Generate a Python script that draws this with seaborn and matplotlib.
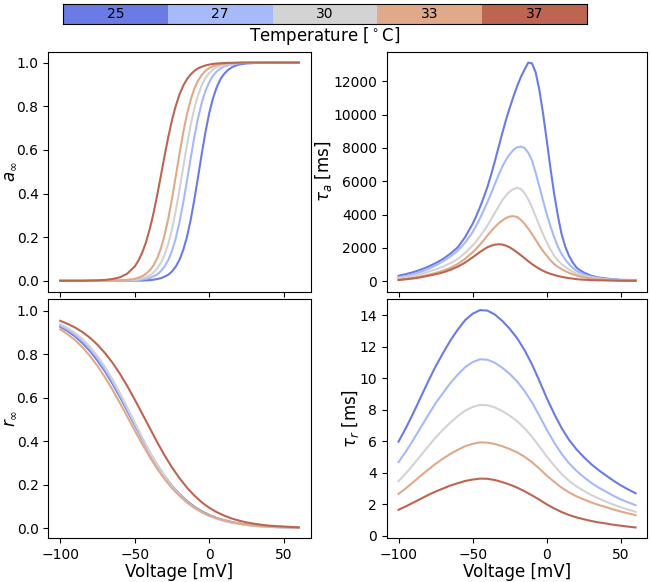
import numpy as np
import pandas as pd
import matplotlib
matplotlib.use("Agg")
import matplotlib.pyplot as plt
import seaborn as sns
from matplotlib.colors import ListedColormap

# voltage grid for the inactivation panels (mV)
volts = [-100, -95, -90, -85, -80, -75, -70, -65, -60, -55, -50, -45, -40, -35, -30, -25,
         -20, -15, -10, -5, 0, 5, 10, 15, 20, 25, 30, 35, 40, 45, 50, 55, 60]
# finer grid around the steep part of the activation panels (mV)
volts_act = [-100, -95, -90, -85, -80, -75, -70, -65, -60, -55, -50,
             -47.5, -45, -42.5, -40, -37.5, -35, -32.5, -30, -27.5, -25, -22.5, -20, -17.5, -15,
             -12.5, -10, -7.5, -5, -2.5, 0, 2.5, 5, 7.5, 10, 12.5, 15, 17.5, 20, 22.5, 25,
             30, 35, 40, 45, 50, 55, 60]

temps = [25, 27, 30, 33, 37]
colors = ["#6a7be6", "#a6bafa", "#d3d3d3", "#dfa98a", "#be6552"]

# a_inf (on volts_act)
a_inf_25 = [0, 0, 0, 0, 0, 0, 0, 0, 0, 0, 0.001,
            0.001, 0.001, 0.002, 0.003, 0.005, 0.008, 0.012, 0.019, 0.028, 0.043, 0.065, 0.096, 0.141, 0.201,
            0.279, 0.374, 0.478, 0.585, 0.685, 0.770, 0.837, 0.888, 0.924, 0.949, 0.966, 0.978, 0.986, 0.991, 0.994, 0.996,
            0.998, 0.999, 1, 1, 1, 1, 1]
a_inf_27 = [0, 0, 0, 0, 0, 0, 0, 0, 0, 0.001, 0.003,
            0.004, 0.006, 0.009, 0.013, 0.020, 0.029, 0.044, 0.065, 0.095, 0.138, 0.195, 0.269, 0.358, 0.458,
            0.562, 0.661, 0.747, 0.818, 0.872, 0.911, 0.940, 0.960, 0.973, 0.982, 0.988, 0.992, 0.995, 0.997, 0.998, 0.998,
            0.999, 1, 1, 1, 1, 1, 1]
a_inf_30 = [0, 0, 0, 0, 0, 0, 0, 0, 0.001, 0.002, 0.005,
            0.007, 0.011, 0.017, 0.025, 0.037, 0.056, 0.082, 0.119, 0.170, 0.237, 0.321, 0.417, 0.521, 0.622,
            0.714, 0.791, 0.852, 0.897, 0.930, 0.953, 0.968, 0.979, 0.986, 0.991, 0.994, 0.996, 0.997, 0.998, 0.999, 0.999,
            1, 1, 1, 1, 1, 1, 1]
a_inf_33 = [0, 0, 0, 0, 0, 0, 0, 0.001, 0.002, 0.004, 0.009,
            0.014, 0.021, 0.032, 0.047, 0.070, 0.103, 0.148, 0.209, 0.286, 0.378, 0.479, 0.583, 0.679, 0.763,
            0.830, 0.881, 0.918, 0.944, 0.963, 0.975, 0.983, 0.989, 0.993, 0.995, 0.997, 0.998, 0.999, 0.999, 1, 1,
            1, 1, 1, 1, 1, 1, 1]
a_inf_37 = [0, 0, 0, 0, 0.001, 0.002, 0.004, 0.008, 0.016, 0.033, 0.066,
            0.093, 0.129, 0.176, 0.236, 0.308, 0.391, 0.481, 0.573, 0.660, 0.737, 0.802, 0.854, 0.894, 0.924,
            0.946, 0.962, 0.974, 0.981, 0.987, 0.991, 0.994, 0.996, 0.997, 0.998, 0.999, 0.999, 0.999, 1, 1, 1,
            1, 1, 1, 1, 1, 1, 1]

# tau_a in ms (on volts_act)
tau_a_25 = [320, 420, 540, 690, 866, 1080, 1330, 1650, 2030, 2650, 3440,
            3920, 4450, 5030, 5660, 6400, 7200, 8040, 8880, 9680, 10400, 11080, 11700, 12250, 12700,
            13130, 13085, 12560, 11500, 10100, 8480, 6800, 5260, 3950, 2840, 2080, 1530, 1130, 826, 650, 520,
            322, 220, 160, 110, 80, 70, 60]
tau_a_27 = [220, 300, 400, 550, 725, 940, 1190, 1480, 1830, 2320, 2940,
            3340, 3780, 4250, 4750, 5280, 5830, 6370, 6870, 7290, 7620, 7880, 8040, 8080, 8000,
            7720, 7270, 6520, 5700, 4850, 4030, 3300, 2640, 2080, 1630, 1300, 1030, 800, 625, 500, 400,
            260, 180, 120, 85, 60, 50, 40]
tau_a_30 = [180, 240, 320, 430, 560, 700, 870, 1080, 1330, 1700, 2135,
            2400, 2700, 3010, 3340, 3720, 4100, 4480, 4850, 5150, 5380, 5530, 5600, 5540, 5300,
            4920, 4450, 3900, 3340, 2820, 2340, 1910, 1530, 1250, 1030, 850, 700, 570, 460, 380, 320,
            220, 150, 100, 75, 60, 50, 40]
tau_a_33 = [100, 140, 200, 280, 380, 490, 625, 800, 1030, 1350, 1730,
            1950, 2200, 2460, 2740, 3000, 3250, 3470, 3645, 3790, 3880, 3905, 3850, 3690, 3450,
            3160, 2840, 2490, 2135, 1810, 1530, 1260, 1030, 860, 725, 600, 500, 410, 340, 280, 230,
            160, 110, 80, 70, 60, 50, 40]
tau_a_37 = [60, 110, 160, 230, 320, 410, 520, 680, 870, 1120, 1430,
            1590, 1750, 1900, 2035, 2130, 2190, 2215, 2200, 2130, 2030, 1890, 1730, 1560, 1380,
            1200, 1030, 880, 740, 620, 520, 440, 370, 310, 260, 215, 180, 150, 120, 100, 85,
            60, 50, 40, 30, 20, 20, 20]

# r_inf (on volts)
r_inf_25 = [0.926, 0.906, 0.881, 0.850, 0.814, 0.770, 0.721, 0.665, 0.604, 0.539, 0.474, 0.409, 0.347, 0.290, 0.239, 0.195,
            0.157, 0.125, 0.099, 0.078, 0.061, 0.047, 0.037, 0.029, 0.022, 0.017, 0.013, 0.010, 0.008, 0.006, 0.005, 0.004, 0.003]
r_inf_27 = [0.932, 0.913, 0.889, 0.859, 0.824, 0.781, 0.731, 0.675, 0.613, 0.547, 0.480, 0.413, 0.349, 0.291, 0.238, 0.193,
            0.154, 0.122, 0.096, 0.075, 0.058, 0.045, 0.035, 0.027, 0.021, 0.016, 0.012, 0.009, 0.007, 0.005, 0.004, 0.003, 0.002]
r_inf_30 = [0.938, 0.920, 0.897, 0.869, 0.833, 0.791, 0.742, 0.685, 0.622, 0.555, 0.486, 0.417, 0.352, 0.291, 0.237, 0.191,
            0.152, 0.119, 0.093, 0.072, 0.056, 0.043, 0.033, 0.025, 0.019, 0.014, 0.011, 0.008, 0.006, 0.005, 0.004, 0.003, 0.002]
r_inf_33 = [0.914, 0.891, 0.864, 0.831, 0.791, 0.746, 0.694, 0.637, 0.576, 0.513, 0.449, 0.387, 0.328, 0.274, 0.226, 0.184,
            0.149, 0.119, 0.094, 0.075, 0.059, 0.046, 0.036, 0.028, 0.022, 0.017, 0.013, 0.010, 0.008, 0.006, 0.005, 0.004, 0.003]
r_inf_37 = [0.953, 0.939, 0.922, 0.901, 0.875, 0.843, 0.805, 0.761, 0.710, 0.653, 0.591, 0.526, 0.461, 0.396, 0.335, 0.279,
            0.230, 0.187, 0.150, 0.119, 0.094, 0.074, 0.058, 0.045, 0.035, 0.027, 0.021, 0.016, 0.012, 0.010, 0.008, 0.006, 0.004]

# tau_r in ms (on volts)
tau_r_25 = [5.98, 6.85, 7.80, 8.80, 9.80, 10.75, 11.60, 12.40, 13.10, 13.70, 14.10, 14.33, 14.30, 14.05, 13.65, 13.15,
            12.55, 11.80, 10.90, 9.85, 8.75, 7.75, 6.85, 6.10, 5.50, 5.00, 4.55, 4.17, 3.83, 3.50, 3.20, 2.94, 2.70]
tau_r_27 = [4.68, 5.36, 6.10, 6.88, 7.66, 8.41, 9.07, 9.70, 10.24, 10.71, 11.03, 11.21, 11.18, 10.99, 10.67, 10.28,
            9.81, 9.20, 8.48, 7.63, 6.74, 5.93, 5.21, 4.61, 4.13, 3.73, 3.37, 3.06, 2.80, 2.54, 2.31, 2.12, 1.94]
tau_r_30 = [3.47, 3.97, 4.52, 5.10, 5.68, 6.24, 6.73, 7.19, 7.60, 7.95, 8.18, 8.31, 8.29, 8.15, 7.92, 7.63,
            7.28, 6.83, 6.30, 5.68, 5.04, 4.46, 3.93, 3.49, 3.14, 2.85, 2.59, 2.37, 2.17, 1.98, 1.81, 1.66, 1.52]
tau_r_33 = [2.66, 3.02, 3.41, 3.81, 4.20, 4.57, 4.90, 5.20, 5.46, 5.69, 5.84, 5.93, 5.92, 5.83, 5.69, 5.51,
            5.30, 5.02, 4.68, 4.27, 3.82, 3.43, 3.06, 2.76, 2.51, 2.31, 2.12, 1.96, 1.82, 1.67, 1.54, 1.42, 1.31]
tau_r_37 = [1.65, 1.87, 2.11, 2.35, 2.59, 2.81, 3.00, 3.19, 3.34, 3.48, 3.57, 3.63, 3.62, 3.54, 3.41, 3.25,
            3.06, 2.83, 2.57, 2.29, 2.00, 1.74, 1.51, 1.32, 1.17, 1.05, 0.94, 0.85, 0.78, 0.70, 0.64, 0.58, 0.53]


def long_form(x, series):
    frames = [pd.DataFrame({"V": x, "y": vals, "T": t}) for t, vals in zip(temps, series)]
    return pd.concat(frames, ignore_index=True)


palette = dict(zip(temps, colors))

fig = plt.figure(figsize=(6.5, 5.82), dpi=100)

# discrete temperature colour bar on top
cax = fig.add_axes([0.0969, 0.9590, 0.8062, 0.0345])
sns.heatmap(np.array([[0, 1, 2, 3, 4]]), cmap=ListedColormap(colors), vmin=-0.5, vmax=4.5,
            annot=np.array([temps]), fmt="d", cbar=False, xticklabels=False, yticklabels=False,
            annot_kws={"color": "black", "fontsize": 10}, ax=cax)
for s in cax.spines.values():
    s.set_visible(True)
    s.set_linewidth(0.8)
cax.set_xlabel("Temperature [$^\\circ$C]", fontsize=12, labelpad=1)
cax.set_ylabel("")

ax_a = fig.add_axes([0.0743, 0.4988, 0.4037, 0.4124])
ax_ta = fig.add_axes([0.5949, 0.4988, 0.4012, 0.4124])
ax_r = fig.add_axes([0.0743, 0.0751, 0.4037, 0.4107])
ax_tr = fig.add_axes([0.5949, 0.0751, 0.4012, 0.4107])

panels = [
    (ax_a, volts_act, [a_inf_25, a_inf_27, a_inf_30, a_inf_33, a_inf_37], "$a_\\infty$"),
    (ax_ta, volts_act, [tau_a_25, tau_a_27, tau_a_30, tau_a_33, tau_a_37], "$\\tau_a$ [ms]"),
    (ax_r, volts, [r_inf_25, r_inf_27, r_inf_30, r_inf_33, r_inf_37], "$r_\\infty$"),
    (ax_tr, volts, [tau_r_25, tau_r_27, tau_r_30, tau_r_33, tau_r_37], "$\\tau_r$ [ms]"),
]

for ax, x, series, ylab in panels:
    sns.lineplot(data=long_form(x, series), x="V", y="y", hue="T", palette=palette,
                 legend=False, linewidth=1.5, estimator=None, ax=ax)
    ax.set_ylabel(ylab, fontsize=12, labelpad=-1)
    ax.set_xlabel("Voltage [mV]", fontsize=12, labelpad=1)
    ax.tick_params(labelsize=10)
    ax.set_xlim(-108, 68)
    ax.set_xticks([-100, -50, 0, 50])

for ax in (ax_a, ax_ta):
    ax.set_xlabel("")
    ax.tick_params(labelbottom=False)

ax_a.set_ylim(-0.05, 1.05)
ax_r.set_ylim(-0.046, 1.052)

fig.savefig("out.png", dpi=100)
